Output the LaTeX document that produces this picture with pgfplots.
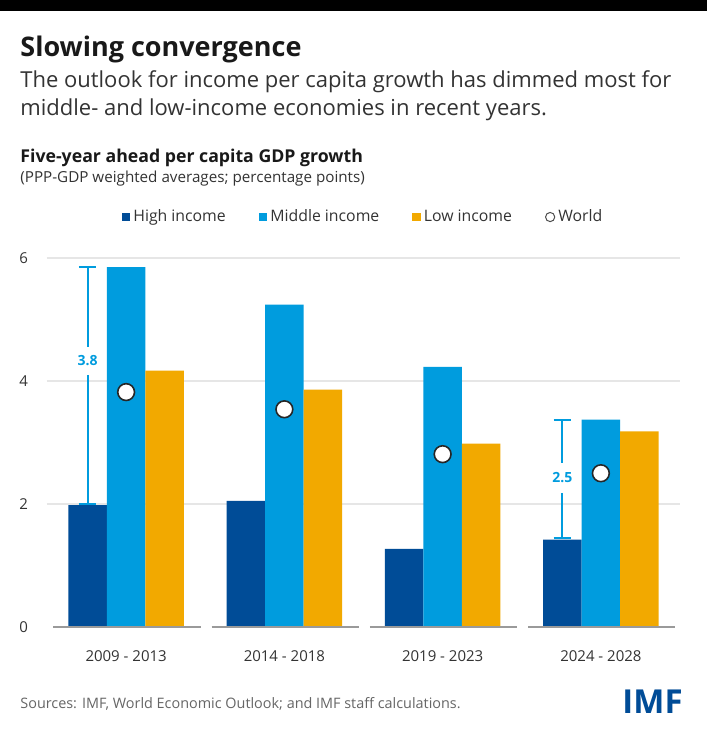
\documentclass[border=0pt]{standalone}
\usepackage{pgfplots}
\pgfplotsset{compat=1.18}
\usepackage{fontspec}
\setmainfont{Open Sans}
\definecolor{hiblue}{HTML}{004C97}
\definecolor{midblue}{HTML}{009CDE}
\definecolor{lowor}{HTML}{F2A900}
\definecolor{gridc}{HTML}{E6E6E6}
\definecolor{basec}{HTML}{9A9A9A}
\definecolor{txt}{HTML}{333333}
\begin{document}
\begin{tikzpicture}[x=0.5pt,y=0.5pt]
\useasboundingbox (0,0) rectangle (707,733);
\fill[white] (0,0) rectangle (707,733);
\fill[black] (0,722) rectangle (707,733);
\node[anchor=base west, inner sep=0, font=\fontsize{13.5}{15}\selectfont\bfseries, text=black!90] at (20,676) {Slowing convergence};
\node[anchor=base west, inner sep=0, font=\fontsize{11}{13}\selectfont, text=txt] at (20,645) {The outlook for income per capita growth has dimmed most for};
\node[anchor=base west, inner sep=0, font=\fontsize{11}{13}\selectfont, text=txt] at (20,617) {middle- and low-income economies in recent years.};
\node[anchor=base west, inner sep=0, font=\fontsize{8.85}{10}\selectfont\bfseries, text=black!90] at (20,570) {Five-year ahead per capita GDP growth};
\node[anchor=base west, inner sep=0, font=\fontsize{7.6}{9}\selectfont, text=txt] at (20,550) {(PPP-GDP weighted averages; percentage points)};
\node[anchor=base west, inner sep=0, font=\fontsize{7.2}{8}\selectfont, text=black!60] at (20,25) {Sources: IMF, World Economic Outlook; and IMF staff calculations.};
\node[anchor=base east, inner sep=0, font=\fontsize{16.5}{18}\selectfont\bfseries, text=hiblue] at (683,19) {IMF};
\begin{axis}[
  at={(23.5pt,53pt)}, anchor=south west,
  width=316.5pt, height=184.5pt, scale only axis,
  xmin=-0.5, xmax=3.5, ymin=0, ymax=6,
  axis line style={draw=none}, tick style={draw=none},
  ytick={2,4,6}, extra y ticks={0}, extra y tick style={grid=none},
  ymajorgrids, grid style={gridc, line width=0.75pt},
  xtick={0,1,2,3},
  xticklabels={2009 - 2013, 2014 - 2018, 2019 - 2023, 2024 - 2028},
  /pgf/number format/assume math mode=true,
  tick label style={font=\fontsize{7.5}{9}\selectfont, text=txt},
  yticklabel style={xshift=-6pt},
  xticklabel style={yshift=-8.5pt},
  clip=false,
  legend columns=4,
  legend style={at={(0.5,1.111)}, anchor=center, draw=none, fill=none,
    font=\fontsize{7.9}{9}\selectfont, text=txt,
    nodes={inner xsep=1.5pt},
    /tikz/every even column/.append style={column sep=15pt}},
  legend cell align=left,
]
\addplot[ybar, bar width=0.243, bar shift=-0.243, fill=hiblue, draw=none,
  legend image code/.code={\fill[hiblue] (0pt,-2.1pt) rectangle (4.3pt,2.1pt);}]
  coordinates {(0,1.98) (1,2.05) (2,1.27) (3,1.42)};
\addlegendentry{High income}
\addplot[ybar, bar width=0.243, bar shift=0, fill=midblue, draw=none,
  legend image code/.code={\fill[midblue] (0pt,-2.1pt) rectangle (4.3pt,2.1pt);}]
  coordinates {(0,5.85) (1,5.24) (2,4.23) (3,3.37)};
\addlegendentry{Middle income}
\addplot[ybar, bar width=0.243, bar shift=0.243, fill=lowor, draw=none,
  legend image code/.code={\fill[lowor] (0pt,-2.1pt) rectangle (4.3pt,2.1pt);}]
  coordinates {(0,4.17) (1,3.86) (2,2.98) (3,3.18)};
\addlegendentry{Low income}
\addplot[only marks, mark=*, mark size=4.2pt, mark options={fill=white, draw=black!85, line width=0.8pt},
  legend image code/.code={\draw[black!70, line width=0.5pt, fill=white] (2.3pt,0pt) circle (2.3pt);}]
  coordinates {(0,3.82) (1,3.54) (2,2.81) (3,2.50)};
\addlegendentry{World}
% baselines
\draw[basec, line width=0.75pt] (axis cs:-0.46,0) -- (axis cs:0.47,0);
\draw[basec, line width=0.75pt] (axis cs:0.54,0) -- (axis cs:1.47,0);
\draw[basec, line width=0.75pt] (axis cs:1.54,0) -- (axis cs:2.47,0);
\draw[basec, line width=0.75pt] (axis cs:2.54,0) -- (axis cs:3.47,0);
% annotation 3.8
\draw[midblue, line width=1pt] (axis cs:-0.243,5.85) -- (axis cs:-0.243,4.56);
\draw[midblue, line width=1pt] (axis cs:-0.243,4.10) -- (axis cs:-0.243,2.00);
\draw[midblue, line width=1pt] (axis cs:-0.298,5.85) -- (axis cs:-0.188,5.85);
\draw[midblue, line width=1pt] (axis cs:-0.298,2.00) -- (axis cs:-0.188,2.00);
\node[font=\fontsize{7}{8}\selectfont\bfseries, text=midblue] at (axis cs:-0.243,4.33) {3.8};
% annotation 2.5
\draw[midblue, line width=1pt] (axis cs:2.757,3.37) -- (axis cs:2.757,2.67);
\draw[midblue, line width=1pt] (axis cs:2.757,2.18) -- (axis cs:2.757,1.45);
\draw[midblue, line width=1pt] (axis cs:2.702,3.37) -- (axis cs:2.812,3.37);
\draw[midblue, line width=1pt] (axis cs:2.702,1.45) -- (axis cs:2.812,1.45);
\node[font=\fontsize{7}{8}\selectfont\bfseries, text=midblue] at (axis cs:2.757,2.43) {2.5};
\end{axis}
\end{tikzpicture}
\end{document}
